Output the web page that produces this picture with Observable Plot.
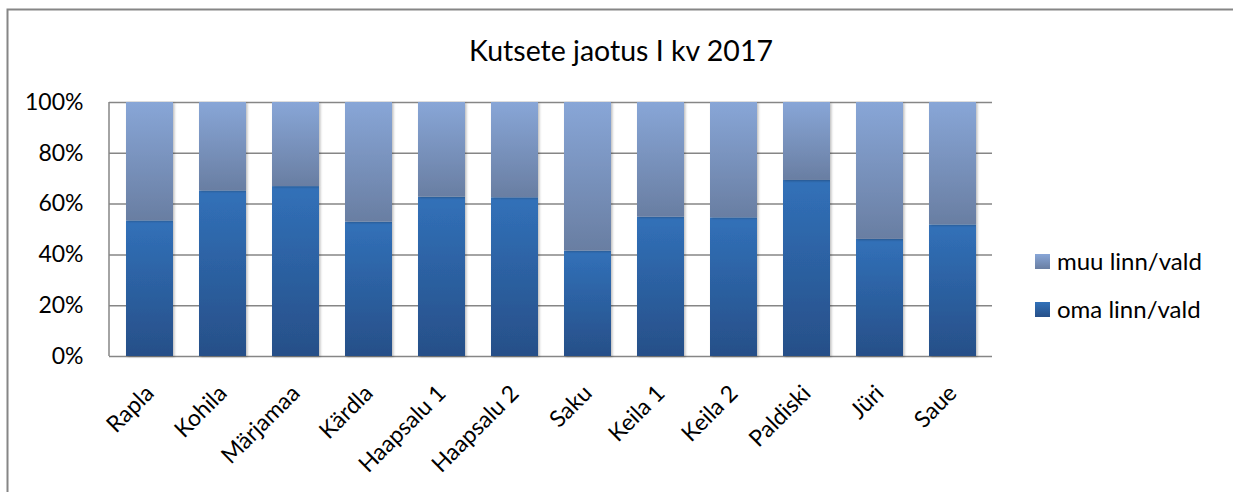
<!DOCTYPE html>
<html>
<head>
<meta charset="utf-8">
<script src="https://cdn.jsdelivr.net/npm/d3@7"></script>
<script src="https://cdn.jsdelivr.net/npm/@observablehq/plot@0.6"></script>
<style>
  html, body { margin: 0; padding: 0; background: #fff; overflow: hidden; }
  #chart { width: 1233px; height: 492px; overflow: hidden; }
</style>
</head>
<body>
<div id="chart"></div>
<script>
const title = "Kutsete jaotus I kv 2017";
const sites = ["Rapla", "Kohila", "Märjamaa", "Kärdla", "Haapsalu 1", "Haapsalu 2", "Saku", "Keila 1", "Keila 2", "Paldiski", "Jüri", "Saue"];
const omaShare = [0.534, 0.652, 0.669, 0.529, 0.627, 0.625, 0.415, 0.549, 0.546, 0.693, 0.461, 0.518];
const muuShare = [0.466, 0.348, 0.331, 0.471, 0.373, 0.375, 0.585, 0.451, 0.454, 0.307, 0.539, 0.482];
const seriesNames = ["oma linn/vald", "muu linn/vald"];
const yTicks = [0, 0.2, 0.4, 0.6, 0.8, 1];

const FONT = "Lato, 'Open Sans', sans-serif";
const fills = {"oma linn/vald": "url(#gOma)", "muu linn/vald": "url(#gMuu)"};

const rows = sites.flatMap((s, i) => [
  {site: s, series: seriesNames[0], value: omaShare[i]},
  {site: s, series: seriesNames[1], value: muuShare[i]}
]);

function defsMark() {
  const defs = d3.create("svg:defs");
  const g1 = defs.append("linearGradient").attr("id", "gOma").attr("x1", 0).attr("y1", 0).attr("x2", 0).attr("y2", 1);
  g1.append("stop").attr("offset", "0%").attr("stop-color", "#3171b9");
  g1.append("stop").attr("offset", "100%").attr("stop-color", "#274f88");
  const g2 = defs.append("linearGradient").attr("id", "gMuu").attr("x1", 0).attr("y1", 0).attr("x2", 0).attr("y2", 1);
  g2.append("stop").attr("offset", "0%").attr("stop-color", "#88a6d7");
  g2.append("stop").attr("offset", "100%").attr("stop-color", "#697ea2");
  const f = defs.append("filter").attr("id", "shadow").attr("x", "-10%").attr("y", "-10%").attr("width", "130%").attr("height", "130%");
  f.append("feDropShadow").attr("dx", 1.5).attr("dy", 1).attr("stdDeviation", 1.2).attr("flood-color", "#000").attr("flood-opacity", 0.25);
  return defs.node();
}

function leftAxisLine(index, scales, values, dims) {
  const g = d3.create("svg:g");
  g.append("line")
    .attr("x1", dims.marginLeft).attr("x2", dims.marginLeft)
    .attr("y1", scales.y(1)).attr("y2", scales.y(0))
    .attr("stroke", "#868686").attr("stroke-width", 1.5);
  return g.node();
}

const chart = Plot.plot({
  width: 1233,
  height: 492,
  marginLeft: 109,
  marginRight: 241,
  marginTop: 102,
  marginBottom: 136,
  style: {fontFamily: FONT, fontSize: "20px", color: "#000", background: "#fff"},
  x: {domain: sites, paddingInner: 0.36, paddingOuter: 0.18, label: null},
  y: {domain: [0, 1], label: null},
  color: {type: "identity"},
  marks: [
    defsMark,
    Plot.ruleY(yTicks, {stroke: "#868686", strokeWidth: 1.5}),
    Plot.barY(rows, Plot.stackY({
      x: "site",
      y: "value",
      order: seriesNames,
      z: "series",
      fill: d => fills[d.series]
    })),
    leftAxisLine,
    Plot.axisY(yTicks, {tickSize: 0, tickPadding: 26, tickFormat: d => Math.round(d * 100) + "%", fontSize: 23, label: null}),
    Plot.axisX({tickSize: 0, tickPadding: 33, tickRotate: -45, fontSize: 23, label: null}),
    Plot.text([title], {frameAnchor: "top", dy: -62, dx: 70, fontSize: 28.5, fill: "#000"})
  ]
});

const svg = d3.select(chart);
// chart border (top and left edges visible)
svg.insert("path", ":first-child")
  .attr("d", "M7.5,600V9.5H1400")
  .attr("fill", "none").attr("stroke", "#868686").attr("stroke-width", 2);
// bar shadow
svg.selectAll("g[aria-label='bar'] rect").attr("filter", "url(#shadow)");

// legend
const legendItems = [
  {name: seriesNames[1], fill: fills[seriesNames[1]], y: 262},
  {name: seriesNames[0], fill: fills[seriesNames[0]], y: 310}
];
const lg = svg.append("g").attr("font-family", FONT).attr("font-size", 24).attr("text-anchor", "start");
legendItems.forEach(it => {
  lg.append("rect").attr("x", 1035).attr("y", it.y - 8).attr("width", 15).attr("height", 15).attr("fill", it.fill);
  lg.append("text").attr("x", 1057).attr("y", it.y).attr("dy", "0.35em").attr("fill", "#000").text(it.name);
});

document.getElementById("chart").appendChild(chart);
</script>
</body>
</html>
